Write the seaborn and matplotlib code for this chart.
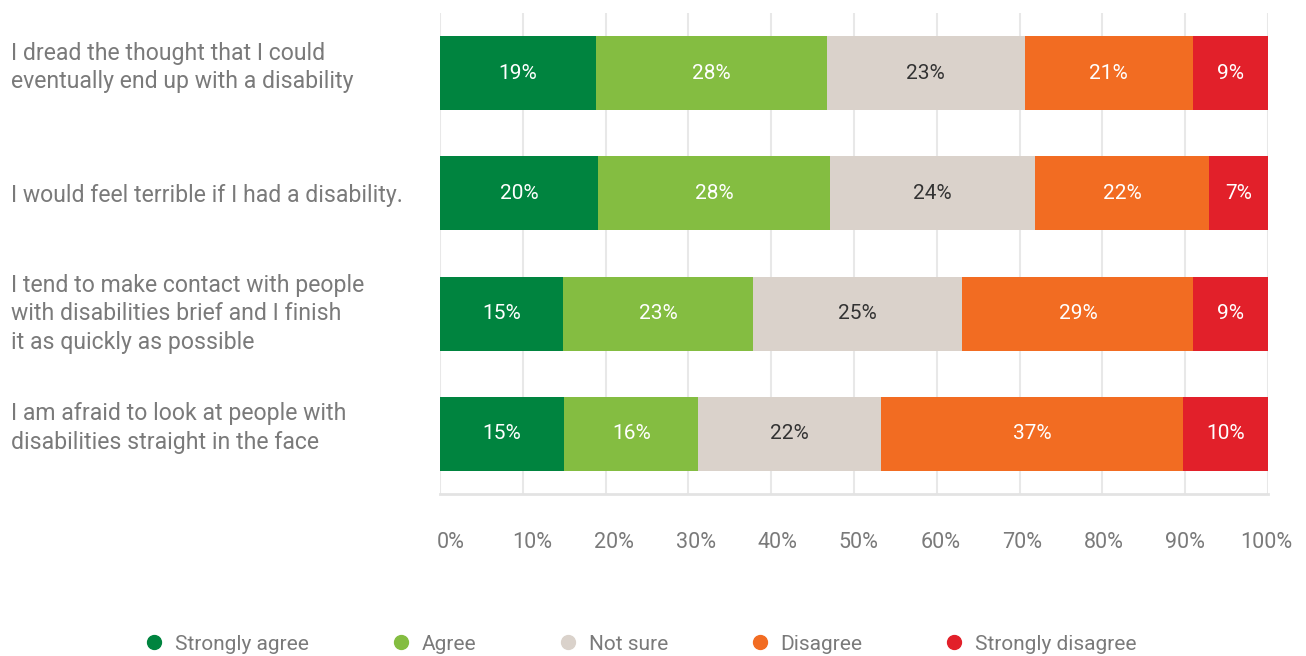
import numpy as np
import pandas as pd
import matplotlib
matplotlib.use("Agg")
import matplotlib.pyplot as plt
import matplotlib.transforms as mtransforms
from matplotlib.lines import Line2D
import seaborn as sns

# Statements (y categories)
statements = [
    "I dread the thought that I could\neventually end up with a disability",
    "I would feel terrible if I had a disability.",
    "I tend to make contact with people\nwith disabilities brief and I finish\nit as quickly as possible",
    "I am afraid to look at people with\ndisabilities straight in the face",
]

responses = ["Strongly agree", "Agree", "Not sure", "Disagree", "Strongly disagree"]

# bar widths (share of respondents, %)
strongly_agree = [18.8, 19.1, 14.9, 15.0]
agree = [27.9, 28.0, 22.9, 16.2]
not_sure = [23.9, 24.8, 25.3, 22.1]
disagree = [20.3, 21.0, 27.9, 36.4]
strongly_disagree = [9.1, 7.1, 9.0, 10.3]

# printed labels on the bars
label_sa = [19, 20, 15, 15]
label_a = [28, 28, 23, 16]
label_ns = [23, 24, 25, 22]
label_d = [21, 22, 29, 37]
label_sd = [9, 7, 9, 10]

colors = ["#00843F", "#84BD41", "#DAD2CB", "#F26C22", "#E2202A"]
text_colors = ["white", "white", "#333333", "white", "white"]
grey_text = "#7a7a7a"

sns.set_theme(style="white")
plt.rcParams["font.family"] = ["Roboto", "DejaVu Sans"]

df = pd.DataFrame({
    "statement": statements,
    "Strongly agree": strongly_agree,
    "Agree": agree,
    "Not sure": not_sure,
    "Disagree": disagree,
    "Strongly disagree": strongly_disagree,
})
labels = [label_sa, label_a, label_ns, label_d, label_sd]

cum = df[responses].cumsum(axis=1)

fig = plt.figure(figsize=(13.06, 6.56), dpi=100)
ax = fig.add_axes([440 / 1306, 1 - 494 / 656, 828 / 1306, 481 / 656])

# stacked bars: draw cumulative totals from the right-most segment back
for i in range(len(responses) - 1, -1, -1):
    sns.barplot(x=cum[responses[i]], y=df["statement"], orient="h",
                color=colors[i], width=0.615, saturation=1, ax=ax, zorder=3,
                linewidth=0, edgecolor="none")

for i, resp in enumerate(responses):
    centers = cum[resp] - df[resp] / 2
    for j, c in enumerate(centers):
        ax.text(c, j, f"{labels[i][j]}%", ha="center", va="center",
                fontsize=15, color=text_colors[i], zorder=5)

ax.set_xlim(0, 100)
ax.set_ylim(3.5, -0.5)
ax.set_xticks(np.arange(0, 101, 10))
ax.set_xticklabels([f"{v}%" for v in range(0, 101, 10)], fontsize=15.5, color=grey_text)
ax.tick_params(axis="x", length=0, pad=27)
ax.tick_params(axis="y", length=0, pad=429 * 72 / 100)

# the x labels in the reference sit a little to the right of the gridlines
for k, lab in enumerate(ax.get_xticklabels()):
    dx = (11 - 1.25 * k) / 100
    lab.set_transform(lab.get_transform() + mtransforms.ScaledTranslation(dx, 0, fig.dpi_scale_trans))

shift = {1: 0.11, 2: 0.05}
for lab in ax.get_yticklabels():
    lab.set_ha("left")
    lab.set_fontsize(16.6)
    lab.set_color(grey_text)
    lab.set_linespacing(1.3)
    dy = shift.get(lab.get_text().count("\n"), 0)
    if dy:
        lab.set_transform(lab.get_transform() + mtransforms.ScaledTranslation(0, dy, fig.dpi_scale_trans))
ax.set_xlabel("")
ax.set_ylabel("")

ax.grid(axis="x", color="#e8e8e8", linewidth=1.5, zorder=0)
ax.grid(axis="y", visible=False)
for s in ["top", "right", "left"]:
    ax.spines[s].set_visible(False)
ax.spines["bottom"].set_color("#e3e3e3")
ax.spines["bottom"].set_linewidth(2)

handles = [Line2D([0], [0], marker="o", linestyle="", markersize=10,
                  markerfacecolor=c, markeredgecolor=c) for c in colors]
leg = fig.legend(handles, responses, loc="center", bbox_to_anchor=(0.491, 0.018),
                 ncol=5, frameon=False, fontsize=15, handlelength=0.8,
                 handletextpad=0.6, columnspacing=4.0)
for t in leg.get_texts():
    t.set_color(grey_text)

fig.savefig("out.png", dpi=100)
